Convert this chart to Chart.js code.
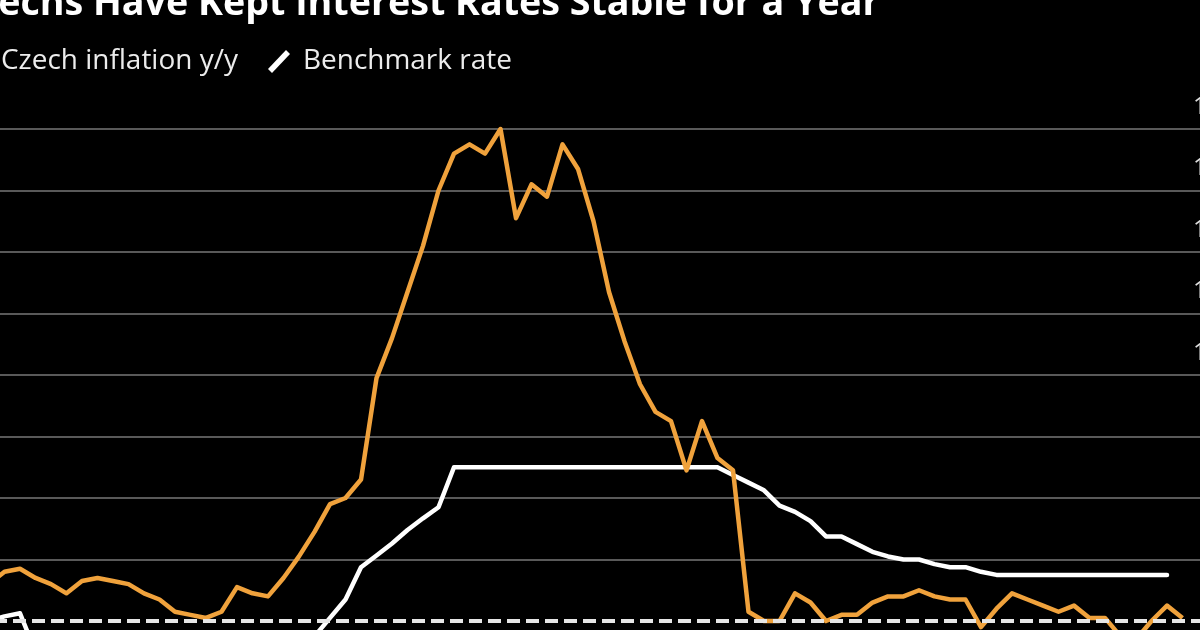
<!DOCTYPE html>
<html><head><meta charset="utf-8">
<script src="https://cdn.jsdelivr.net/npm/chart.js@4.4.1/dist/chart.umd.min.js"></script>
<style>
html,body{margin:0;padding:0;background:#000;width:1200px;height:630px;overflow:hidden;}
#wrap{position:absolute;left:-20px;top:0;width:1300px;height:700px;}
canvas{display:block}
</style></head><body>
<div id="wrap"><canvas id="c" width="1300" height="700"></canvas></div>
<script>
// ---- data ----
const TITLE = "Czechs Have Kept Interest Rates Stable for a Year";
const seriesNames = ["Czech inflation y/y", "Benchmark rate"];
const months = [
 "2019-12",
 "2020-01","2020-02","2020-03","2020-04","2020-05","2020-06","2020-07","2020-08","2020-09","2020-10","2020-11","2020-12",
 "2021-01","2021-02","2021-03","2021-04","2021-05","2021-06","2021-07","2021-08","2021-09","2021-10","2021-11","2021-12",
 "2022-01","2022-02","2022-03","2022-04","2022-05","2022-06","2022-07","2022-08","2022-09","2022-10","2022-11","2022-12",
 "2023-01","2023-02","2023-03","2023-04","2023-05","2023-06","2023-07","2023-08","2023-09","2023-10","2023-11","2023-12",
 "2024-01","2024-02","2024-03","2024-04","2024-05","2024-06","2024-07","2024-08","2024-09","2024-10","2024-11","2024-12",
 "2025-01","2025-02","2025-03","2025-04","2025-05","2025-06","2025-07","2025-08","2025-09","2025-10","2025-11","2025-12",
 "2026-01","2026-02","2026-03","2026-04","2026-05"
];
const inflation = [
 3.2,
 3.6,3.7,3.4,3.2,2.9,3.3,3.4,3.3,3.2,2.9,2.7,2.3,
 2.2,2.1,2.3,3.1,2.9,2.8,3.4,4.1,4.9,5.8,6.0,6.6,
 9.9,11.2,12.7,14.2,16.0,17.2,17.5,17.2,18.0,15.1,16.2,15.8,
 17.5,16.7,15.0,12.7,11.1,9.7,8.8,8.5,6.9,8.5,7.3,6.9,
 2.3,2.0,2.0,2.9,2.6,2.0,2.2,2.2,2.6,2.8,2.8,3.0,
 2.8,2.7,2.7,1.8,2.4,2.9,2.7,2.5,2.3,2.5,2.1,2.1,
 1.5,1.4,2.0,2.5,2.1
];
const benchmarkRate = [
 2.0,
 2.15,2.25,1.0,1.0,0.25,0.25,0.25,0.25,0.25,0.25,0.25,0.25,
 0.25,0.25,0.25,0.25,0.25,0.5,0.5,0.75,1.5,2.1,2.7,3.75,
 4.13,4.52,4.96,5.34,5.7,7.0,7.0,7.0,7.0,7.0,7.0,7.0,
 7.0,7.0,7.0,7.0,7.0,7.0,7.0,7.0,7.0,7.0,7.0,6.75,
 6.5,6.25,5.75,5.55,5.25,4.75,4.75,4.5,4.25,4.1,4.0,4.0,
 3.85,3.75,3.75,3.6,3.5,3.5,3.5,3.5,3.5,3.5,3.5,3.5,
 3.5,3.5,3.5,3.5,null
];
const yTicks = [0,2,4,6,8,10,12,14,16,18];
const inflationTarget = 2;

// ---- styles ----
const ORANGE = "#F0A23C";
const WHITE = "#FFFFFF";
const GRID = "#595959";
const OFFX = 20; // canvas is shifted 20px left of the page
const TICK_LEN = 30;

const overlay = {
  id: "overlay",
  afterDatasetsDraw(chart) {
    const {ctx, chartArea, scales} = chart;
    const y = scales.y;
    const py = y.getPixelForValue(inflationTarget);
    ctx.save();
    ctx.strokeStyle = "#e6e6e6";
    ctx.lineWidth = 4;
    ctx.setLineDash([13, 6]);
    ctx.lineDashOffset = 4;
    ctx.beginPath();
    ctx.moveTo(chartArea.left - 10, py);
    ctx.lineTo(y.left + TICK_LEN, py);
    ctx.stroke();
    ctx.restore();
  },
  afterDraw(chart) {
    const ctx = chart.ctx;
    const y = chart.scales.y;
    ctx.save();
    // right-axis tick labels, sitting above their gridlines
    ctx.font = '24px "Open Sans"';
    ctx.fillStyle = "#e0e0e0";
    ctx.textAlign = "right";
    ctx.textBaseline = "middle";
    y.ticks.forEach(t => {
      ctx.fillText(String(t.value), y.left + 38, y.getPixelForValue(t.value) - 22);
    });
    // title
    const head = "Czechs ";
    const rest = TITLE.slice(head.length);
    ctx.textAlign = "left";
    ctx.textBaseline = "alphabetic";
    ctx.font = 'bold 100px "Open Sans"';
    const s = 100 * 787 / ctx.measureText(rest).width;
    ctx.font = `bold ${s}px "Open Sans"`;
    const wHead = ctx.measureText(head).width;
    ctx.fillStyle = "#ffffff";
    ctx.fillText(TITLE, 93 - wHead + OFFX, 15);
    // legend
    ctx.font = '100px "Open Sans"';
    const ls = 100 * 237 / ctx.measureText(seriesNames[0]).width;
    ctx.font = `${ls}px "Open Sans"`;
    ctx.fillStyle = "#ececec";
    ctx.fillText(seriesNames[0], 1 + OFFX, 69);
    ctx.fillText(seriesNames[1], 303 + OFFX, 69);
    ctx.lineWidth = 5.5;
    ctx.lineCap = "butt";
    ctx.strokeStyle = ORANGE;
    ctx.beginPath(); ctx.moveTo(-33 + OFFX, 71); ctx.lineTo(-15 + OFFX, 52); ctx.stroke();
    ctx.strokeStyle = WHITE;
    ctx.beginPath(); ctx.moveTo(270 + OFFX, 71); ctx.lineTo(288 + OFFX, 52); ctx.stroke();
    ctx.restore();
  }
};

new Chart(document.getElementById("c"), {
  type: "line",
  data: {
    labels: months,
    datasets: [
      { label: seriesNames[0], data: inflation, borderColor: ORANGE, borderWidth: 4.5,
        pointRadius: 0, tension: 0, clip: false, borderJoinStyle: "round", borderCapStyle: "butt" },
      { label: seriesNames[1], data: benchmarkRate, borderColor: WHITE, borderWidth: 4.5,
        pointRadius: 0, tension: 0, clip: false, borderJoinStyle: "round", borderCapStyle: "round" }
    ]
  },
  options: {
    responsive: false,
    animation: false,
    devicePixelRatio: 1,
    layout: { padding: { left: 9, right: 37.5, top: 129, bottom: 17.5 } },
    plugins: { legend: { display: false }, title: { display: false }, tooltip: { enabled: false } },
    scales: {
      x: { type: "category", display: false, offset: false },
      y: {
        position: "right", min: 0, max: 18,
        afterFit(sc) { sc.width = 60; },
        afterBuildTicks(sc) { sc.ticks = yTicks.map(v => ({ value: v })); },
        grid: {
          color: c => (c.tick && c.tick.value === inflationTarget) ? "rgba(0,0,0,0)" : GRID,
          lineWidth: 2, drawTicks: true, tickLength: TICK_LEN
        },
        border: { display: false },
        ticks: { display: false }
      }
    }
  },
  plugins: [overlay]
});
</script>
</body></html>
